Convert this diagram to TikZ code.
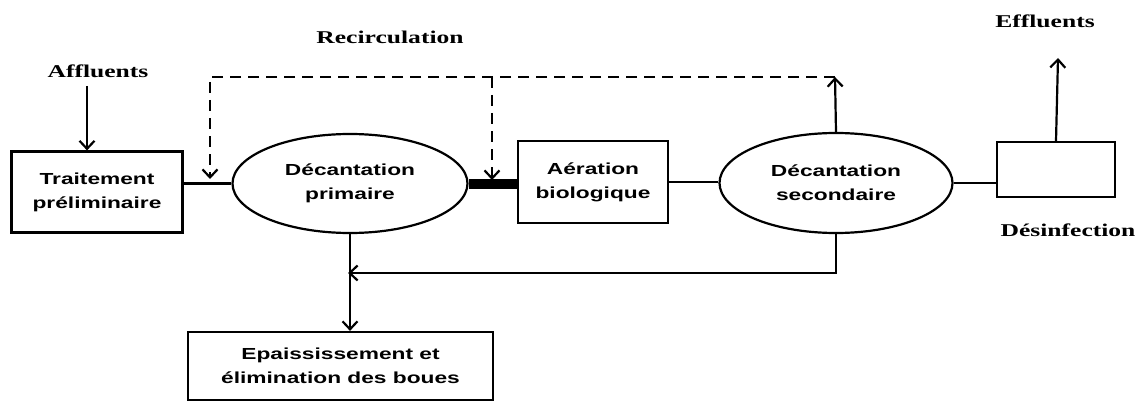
\documentclass[tikz,border=0pt]{standalone}
\usepackage{fontspec}
\newfontfamily\tagfont[FakeStretch=1.42]{Liberation Serif}
\newfontfamily\boxfont[FakeStretch=1.42]{Liberation Sans}
\usetikzlibrary{arrows.meta,shapes,positioning,calc}

\begin{document}
\begin{tikzpicture}[x = 1pt, y = -1pt, line width = 2.2pt,
    >={Straight Barb[length=8pt,width=15pt,line width=2.2pt]},
    unit/.style = {draw, align = center, inner sep = 0pt, font = \boxfont\bfseries\fontsize{16}{24}\selectfont},
    tank/.style = {unit, ellipse},
    tag/.style = {font = \tagfont\bfseries\fontsize{18}{22}\selectfont},
    recycle/.style = {dash pattern = on 11pt off 7pt}]
    \useasboundingbox (0,0) rectangle (1142,401);
    \node[unit, minimum width = 171, minimum height = 81] (pretrait) at (97,192) {Traitement\\préliminaire};
    \node[tank, minimum width = 235, minimum height = 99] (primaire) at (350,183.5) {Décantation\\primaire};
    \node[unit, minimum width = 150, minimum height = 82] (aeration) at (593,182) {Aération\\biologique};
    \node[tank, minimum width = 233, minimum height = 100] (secondaire) at (836,183) {Décantation\\secondaire};
    \node[unit, minimum width = 118, minimum height = 55] (desinf) at (1056,169.5) {};
    \node[unit, minimum width = 305, minimum height = 68] (boues) at (340.5,366) {Epaississement et\\élimination des boues};
    \node[tag] (affl) at (98,71) {Affluents};
    \node[tag] (recirc) at (390,37) {Recirculation};
    \node[tag] (effl) at (1045,21) {Effluents};
    \node[tag] (desinflabel) at (1068,230) {Désinfection};
    \coordinate (rtop) at (835,77);
    \coordinate (j1) at (210,182);
    \coordinate (j2) at (492,183);
    \coordinate (j3) at (348,273);
    \coordinate (efftip) at (1058,58);
    \draw[->] ([xshift = -10pt]pretrait.north |- 0,86) -- ([xshift = -10pt]pretrait.north);
    \draw (primaire.west) -- (primaire.west -| pretrait.east);
    \draw[line width = 10pt] (primaire.east) -- (primaire.east -| aeration.west);
    \draw (aeration.east) -- (aeration.east -| secondaire.west);
    \draw (secondaire.east) -- (secondaire.east -| desinf.west);
    \draw[->] (desinf.north) -- (efftip);
    \draw[->] (secondaire.north) -- (rtop);
    \draw[recycle, ->, shorten > = 3pt] (rtop) -| (j1);
    \draw[recycle, ->, shorten > = 3pt] (j2 |- rtop) -- (j2);
    \draw[->] (secondaire.south) |- (j3);
    \draw[->] (primaire.south) -- (primaire.south |- boues.north);
\end{tikzpicture}
\end{document}
